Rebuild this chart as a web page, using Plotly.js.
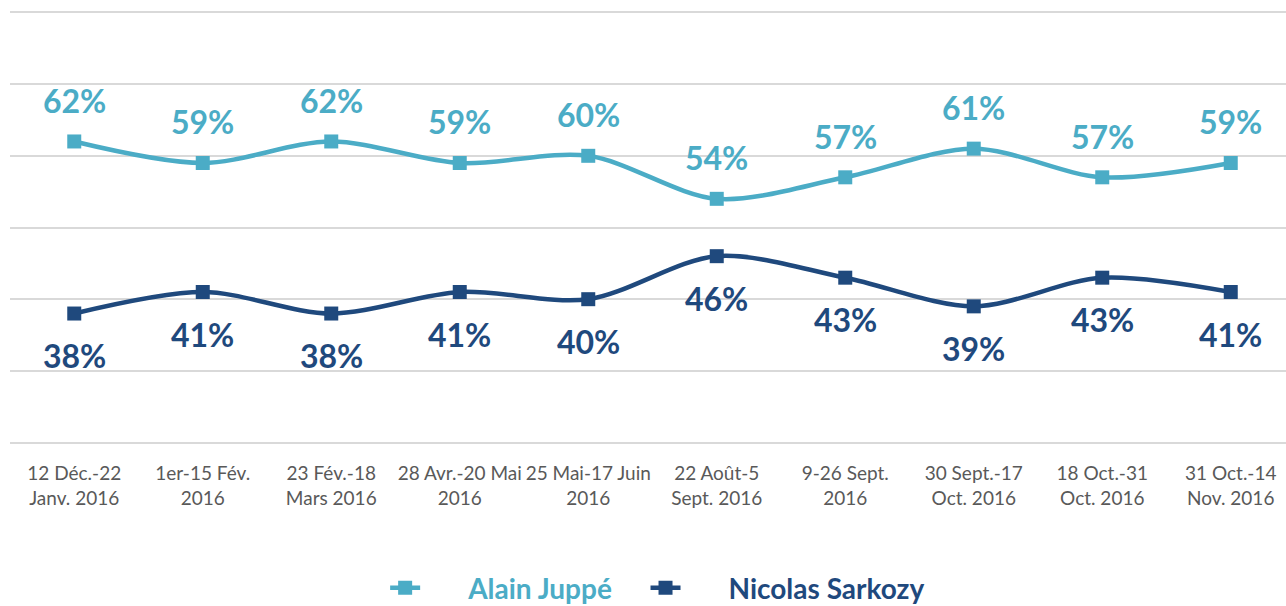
<!DOCTYPE html>
<html>
<head>
<meta charset="utf-8">
<script src="https://cdn.plot.ly/plotly-3.0.1.min.js"></script>
<style>html,body{margin:0;padding:0;background:#fff;}#chart{width:1286px;height:606px;}</style>
</head>
<body>
<div id="chart"></div>
<script>
const categories = [
  "12 Déc.-22<br>Janv. 2016",
  "1er-15 Fév.<br>2016",
  "23 Fév.-18<br>Mars 2016",
  "28 Avr.-20 Mai<br>2016",
  "25 Mai-17 Juin<br>2016",
  "22 Août-5<br>Sept. 2016",
  "9-26 Sept.<br>2016",
  "30 Sept.-17<br>Oct. 2016",
  "18 Oct.-31<br>Oct. 2016",
  "31 Oct.-14<br>Nov. 2016"
];
const juppe = [62, 59, 62, 59, 60, 54, 57, 61, 57, 59];
const sarkozy = [38, 41, 38, 41, 40, 46, 43, 39, 43, 41];
const seriesNames = ["Alain Juppé", "Nicolas Sarkozy"];
const juppeColor = "#4bacc6";
const sarkoColor = "#1f497d";
const idx = categories.map((c, i) => i);
const FONT = "Lato, 'Open Sans', sans-serif";
const LEAD = "&nbsp;&nbsp;&nbsp;&nbsp;&nbsp;&nbsp;";
const TRAIL = "&nbsp;&nbsp;&nbsp;&nbsp;";

const traces = [
  {
    x: idx, y: juppe, type: "scatter", mode: "lines+markers",
    name: LEAD + '<b><span style="color:' + juppeColor + '">' + seriesNames[0] + '</span></b>' + TRAIL,
    line: {color: juppeColor, width: 4.5, shape: "spline", smoothing: 0.9},
    marker: {symbol: "square", size: 14, color: juppeColor}
  },
  {
    x: idx, y: sarkozy, type: "scatter", mode: "lines+markers",
    name: LEAD + '<b><span style="color:' + sarkoColor + '">' + seriesNames[1] + '</span></b>',
    line: {color: sarkoColor, width: 4.5, shape: "spline", smoothing: 0.9},
    marker: {symbol: "square", size: 14, color: sarkoColor}
  }
];

const annotations = [];
idx.forEach(i => {
  annotations.push({x: i, y: juppe[i], text: "<b>" + juppe[i] + "%</b>", showarrow: false,
    yshift: 41, font: {family: FONT, size: 32, color: juppeColor}});
  annotations.push({x: i, y: sarkozy[i], text: "<b>" + sarkozy[i] + "%</b>", showarrow: false,
    yshift: -42, font: {family: FONT, size: 32, color: sarkoColor}});
});

const layout = {
  width: 1286, height: 606,
  margin: {l: 10, r: 0, t: 11, b: 162, autoexpand: false},
  paper_bgcolor: "#ffffff", plot_bgcolor: "#ffffff",
  showlegend: true,
  legend: {orientation: "h", x: 0.294, xanchor: "left", y: -0.3326, yanchor: "middle",
    font: {family: FONT, size: 28}},
  xaxis: {
    range: [-0.5, 9.43], tickmode: "array", tickvals: idx, ticktext: categories,
    tickangle: 0,
    showgrid: false, zeroline: false, showline: false,
    ticks: "outside", ticklen: 12, tickcolor: "rgba(0,0,0,0)",
    tickfont: {family: FONT, size: 19, color: "#595959"},
    fixedrange: true
  },
  yaxis: {
    range: [19.8, 80.2], tickmode: "array", tickvals: [20, 30, 40, 50, 60, 70, 80],
    showticklabels: false, showgrid: true,
    gridcolor: "#d9d9d9", gridwidth: 2, zeroline: false, showline: false, fixedrange: true
  },
  annotations: annotations
};

Plotly.newPlot("chart", traces, layout, {displayModeBar: false, staticPlot: true});
</script>
</body>
</html>
